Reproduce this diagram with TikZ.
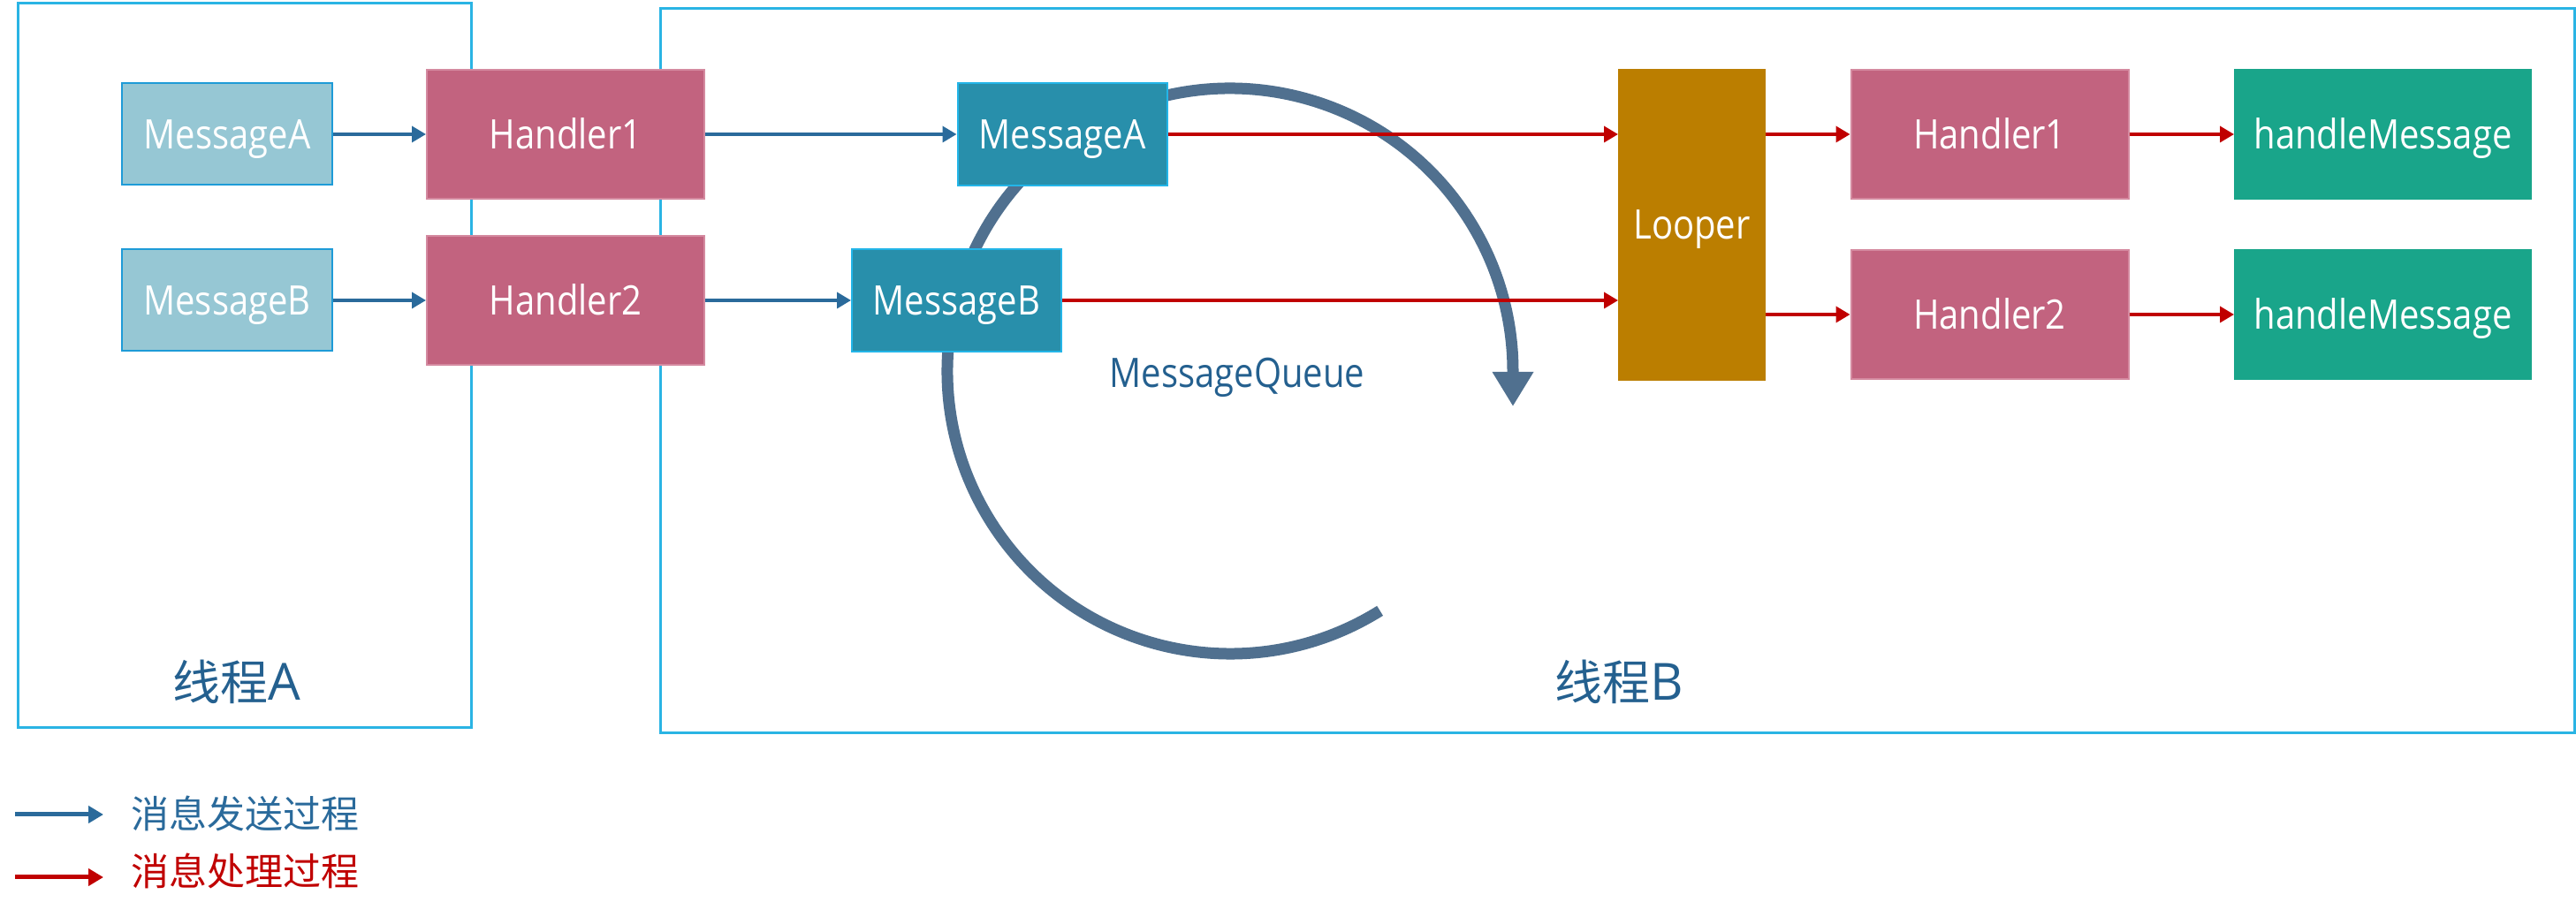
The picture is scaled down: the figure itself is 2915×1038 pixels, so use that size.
\documentclass[tikz,border=0pt]{standalone}
\usepackage{fontspec}
\usetikzlibrary{arrows.meta}
\setmainfont{Open Sans}
\newfontfamily\lat[FakeStretch=0.87]{Open Sans}
\newfontfamily\cjk{Noto Sans CJK SC}
\definecolor{framec}{HTML}{2AB4E4}
\definecolor{msgL}{HTML}{96C7D4}
\definecolor{msgLb}{HTML}{1E9BD7}
\definecolor{hnd}{HTML}{C2637F}
\definecolor{hndb}{HTML}{D48AA0}
\definecolor{msgD}{HTML}{288FAB}
\definecolor{msgDb}{HTML}{23B5E8}
\definecolor{lpr}{HTML}{BB7E00}
\definecolor{hmc}{HTML}{19A58A}
\definecolor{blu}{HTML}{2A6A9B}
\definecolor{redc}{HTML}{C00000}
\definecolor{arcc}{HTML}{50708F}
\definecolor{lblc}{HTML}{24608F}
\begin{document}
\begin{tikzpicture}[x=1pt,y=1pt,
  frame/.style={rectangle, draw=framec, line width=3pt, inner sep=0pt},
  box/.style={rectangle, inner sep=0pt, text=white, font=\lat\fontsize{46}{50}\selectfont,
              text height=33pt, text depth=0pt, line width=2pt},
  msgl/.style={box, fill=msgL, draw=msgLb, minimum width=238, minimum height=115},
  handler/.style={box, fill=hnd, draw=hndb, minimum width=314, minimum height=146},
  msgd/.style={box, fill=msgD, draw=msgDb, minimum width=237, minimum height=116},
  looperbox/.style={box, fill=lpr, draw=lpr, minimum width=165, minimum height=351},
  hmbox/.style={box, fill=hmc, draw=hmc, minimum width=335, minimum height=146},
  sendarrow/.style={draw=blu, line width=3.5pt, -{Triangle[length=16pt,width=18pt]}},
  procarrow/.style={draw=redc, line width=3.5pt, -{Triangle[length=16pt,width=18pt]}},
  legarrow/.style={line width=5pt, -{Triangle[length=17pt,width=19pt]}},
  thlabel/.style={inner sep=0pt, anchor=base, text=lblc},
  legtext/.style={inner sep=0pt, anchor=west, font=\cjk\fontsize{43}{48}\selectfont}
]
\useasboundingbox (0,0) rectangle (2915,1038);

% thread frames
\node[frame, minimum width=513, minimum height=820.7] (TA) at (276.5,624.35) {};
\node[frame, minimum width=2166, minimum height=820.7] (TB) at (1830,618.35) {};

% message queue loop
\coordinate (qc) at (1392,618);
\draw[draw=arcc, line width=13pt, -{Triangle[length=39pt,width=44pt]}]
  ([shift={(-58:320)}]qc) arc[start angle=-58, end angle=-360, radius=320] -- ++(0,-40);

% nodes
\node[msgl] (MAl) at (257,886) {MessageA};
\node[msgl] (MBl) at (257,698) {MessageB};
\node[handler] (H1) at (640,886) {Handler1};
\node[handler] (H2) at (640,698) {Handler2};
\node[msgd] (MAm) at (1202,886) {MessageA};
\node[msgd] (MBm) at (1082.5,698) {MessageB};
\node[looperbox] (LP) at (1914.5,783.5) {Looper};
\node[handler] (H1R) at (2251.5,886) {Handler1};
\node[handler] (H2R) at (2251.5,682) {Handler2};
\node[hmbox] (HM1) at (2696.5,886) {handleMessage};
\node[hmbox] (HM2) at (2696.5,682) {handleMessage};

% labels
\node[thlabel, font=\lat\fontsize{46}{50}\selectfont] (MQ) at (1400,599) {MessageQueue};
\node[thlabel] (LA) at (268,245) {{\cjk\fontsize{54}{60}\selectfont 线程}{\fontsize{58}{60}\selectfont A}};
\node[thlabel] (LB) at (1832,245) {{\cjk\fontsize{54}{60}\selectfont 线程}{\fontsize{58}{60}\selectfont B}};

% send arrows
\draw[sendarrow] (MAl) -- (H1);
\draw[sendarrow] (MBl) -- (H2);
\draw[sendarrow] (H1) -- (MAm);
\draw[sendarrow] (H2) -- (MBm);

% processing arrows
\draw[procarrow] (MAm) -- (MAm -| LP.west);
\draw[procarrow] (MBm) -- (MBm -| LP.west);
\draw[procarrow] (LP.east |- H1R) -- (H1R);
\draw[procarrow] (LP.east |- H2R) -- (H2R);
\draw[procarrow] (H1R) -- (HM1);
\draw[procarrow] (H2R) -- (HM2);

% legend
\node[legtext, text=blu] (T1) at (148,117) {消息发送过程};
\node[legtext, text=redc] (T2) at (148,52) {消息处理过程};
\coordinate (L1) at (17,116);
\coordinate (L2) at (17,45);
\draw[legarrow, draw=blu] (L1) -- ([xshift=-31pt]T1.west |- L1);
\draw[legarrow, draw=redc] (L2) -- ([xshift=-31pt]T2.west |- L2);
\end{tikzpicture}
\end{document}
